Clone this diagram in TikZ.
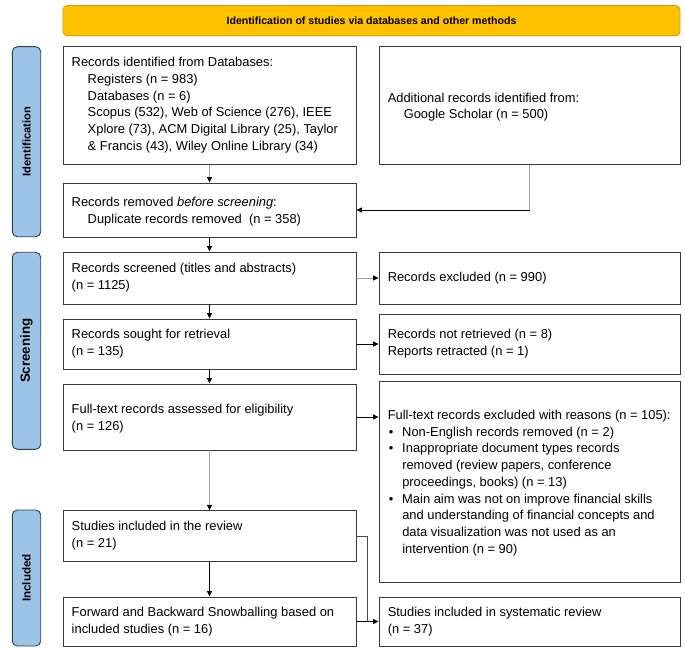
\documentclass[tikz,border=0pt]{standalone}
\usepackage{fontspec}
\setmainfont{Liberation Sans}
\usetikzlibrary{arrows.meta}
\definecolor{bannerfill}{HTML}{FFC000}
\definecolor{bannerdraw}{HTML}{D4A200}
\definecolor{sidefill}{HTML}{9DC3E6}
\definecolor{sidedraw}{HTML}{2B3E55}
\definecolor{boxdraw}{HTML}{3A3A3A}
\definecolor{linegray}{HTML}{A0A0A0}
\begin{document}
\begin{tikzpicture}[x=1bp,y=-1bp,
  box/.style={draw=boxdraw, line width=0.9bp, fill=white, inner sep=0pt},
  lbox/.style={box, minimum width=293bp},
  rbox/.style={box, minimum width=301bp},
  txt/.style={inner sep=0pt, align=left, anchor=west, font=\fontsize{12.9bp}{16.7bp}\selectfont},
  side/.style={draw=sidedraw, fill=sidefill, rounded corners=5bp, line width=0.9bp, minimum width=28.4bp, inner sep=0pt},
  sidetxt/.style={rotate=90, inner sep=0pt, font=\bfseries},
  arr/.style={-{Triangle[length=5.5bp,width=5bp,color=black]}, line width=0.8bp, draw=black},
  garr/.style={arr, draw=linegray},
  gline/.style={line width=0.8bp, draw=linegray},
  bl/.style={\makebox[14.5bp][l]{\hspace{1bp}\textbullet}}
]
\useasboundingbox (0,0) rectangle (685,648);

% banner
\node[draw=bannerdraw, fill=bannerfill, rounded corners=4bp, line width=0.9bp,
      minimum width=617bp, minimum height=30bp, inner sep=0pt,
      font=\fontsize{10.6bp}{12bp}\selectfont\bfseries] (ban) at (371.5,20.7)
      {Identification of studies via databases and other methods};

% side bars
\node[side, minimum height=190bp] (sid1) at (26.5,141.7) {};
\node[sidetxt, font=\fontsize{11.2bp}{13bp}\selectfont\bfseries] (sid1t) at (sid1.center) {Identification};
\node[side, minimum height=197bp] (sid2) at (26.5,350.8) {};
\node[sidetxt, font=\fontsize{13.3bp}{15bp}\selectfont\bfseries] (sid2t) at (sid2.center) {Screening};
\node[side, minimum height=136bp] (sid3) at (26.5,578) {};
\node[sidetxt, font=\fontsize{11.6bp}{13bp}\selectfont\bfseries] (sid3t) at (sid3.center) {Included};

% boxes
\node[lbox, minimum height=118.5bp] (ident) at (209.5,105.25) {};
\node[txt] (identt) at ([xshift=9bp]ident.west)
 {Records identified from Databases:\\
  \hspace*{16bp}Registers (n = 983)\\
  \hspace*{16bp}Databases (n = 6)\\
  \hspace*{16bp}Scopus (532), Web of Science (276), IEEE\\
  \hspace*{16bp}Xplore (73), ACM Digital Library (25), Taylor\\
  \hspace*{16bp}\& Francis (43), Wiley Online Library (34)};

\node[rbox, minimum height=118.5bp] (add) at (529.5,105.25) {};
\node[txt] (addt) at ([xshift=9bp,yshift=-2bp]add.west)
 {Additional records identified from:\\
  \hspace*{16bp}Google Scholar (n = 500)};

\node[lbox, minimum height=54bp] (removed) at (209.5,210) {};
\node[txt] (removedt) at ([xshift=9bp,yshift=-1.5bp]removed.west)
 {Records removed \textit{before screening}:\\
  \hspace*{16bp}Duplicate records removed\ \ (n = 358)};

\node[lbox, minimum height=52bp] (screened) at (209.5,278) {};
\node[txt] (screenedt) at ([xshift=9bp]screened.west)
 {Records screened (titles and abstracts)\\(n = 1125)};

\node[rbox, minimum height=52bp] (excl) at (529.5,278) {};
\node[txt] (exclt) at ([xshift=9bp]excl.west) {Records excluded (n = 990)};

\node[lbox, minimum height=50bp] (sought) at (209.5,344) {};
\node[txt] (soughtt) at ([xshift=9bp]sought.west)
 {Records sought for retrieval\\(n = 135)};

\node[rbox, minimum height=60bp] (notret) at (529.5,344) {};
\node[txt] (notrett) at ([xshift=9bp]notret.west)
 {Records not retrieved (n = 8)\\Reports retracted (n = 1)};

\node[lbox, minimum height=66bp] (fulltext) at (209.5,417) {};
\node[txt] (fulltextt) at ([xshift=9bp,yshift=-2bp]fulltext.west)
 {Full-text records assessed for eligibility\\(n = 126)};

\node[rbox, minimum height=201bp] (ftexcl) at (529.5,481.5) {};
\node[txt] (ftexclt) at ([xshift=9bp,yshift=-1.5bp]ftexcl.west)
 {Full-text records excluded with reasons (n = 105):\\
  \makebox[14.5bp][l]{\hspace{1bp}\textbullet}Non-English records removed (n = 2)\\
  \makebox[14.5bp][l]{\hspace{1bp}\textbullet}Inappropriate document types records\\
  \hspace*{14.5bp}removed (review papers, conference\\
  \hspace*{14.5bp}proceedings, books) (n = 13)\\
  \makebox[14.5bp][l]{\hspace{1bp}\textbullet}Main aim was not on improve financial skills\\
  \hspace*{14.5bp}and understanding of financial concepts and\\
  \hspace*{14.5bp}data visualization was not used as an\\
  \hspace*{14.5bp}intervention (n = 90)};

\node[lbox, minimum height=50.6bp] (studies) at (209.5,536) {};
\node[txt] (studiest) at ([xshift=9bp]studies.west)
 {Studies included in the review\\(n = 21)};

\node[lbox, minimum height=49bp] (forward) at (209.5,621.5) {};
\node[txt] (forwardt) at ([xshift=9bp]forward.west)
 {Forward and Backward Snowballing based on\\included studies (n = 16)};

\node[rbox, minimum height=49bp] (sys) at (529.5,621.5) {};
\node[txt] (syst) at ([xshift=9bp]sys.west)
 {Studies included in systematic review\\(n = 37)};

% connectors
\coordinate (jn) at (367.3,621.5);
\draw[garr] (ident.south) -- (removed.north);
\draw[gline] (add.south) -- (add.south |- removed.east);
\draw[arr] (add.south |- removed.east) -- (removed.east);
\draw[arr] (removed.south) -- (screened.north);
\draw[garr] (screened.east) -- (excl.west);
\draw[arr] (screened.south) -- (sought.north);
\draw[arr] (sought.east) -- (notret.west);
\draw[arr] (sought.south) -- (fulltext.north);
\draw[arr] (fulltext.east) -- (fulltext.east -| ftexcl.west);
\draw[garr] (fulltext.south) -- (studies.north);
\draw[arr] (studies.south) -- (forward.north);
\draw[line width=0.6bp, draw=black!70] (studies.east) -| (jn);
\draw[arr] (forward.east) -- (sys.west);
\end{tikzpicture}
\end{document}
